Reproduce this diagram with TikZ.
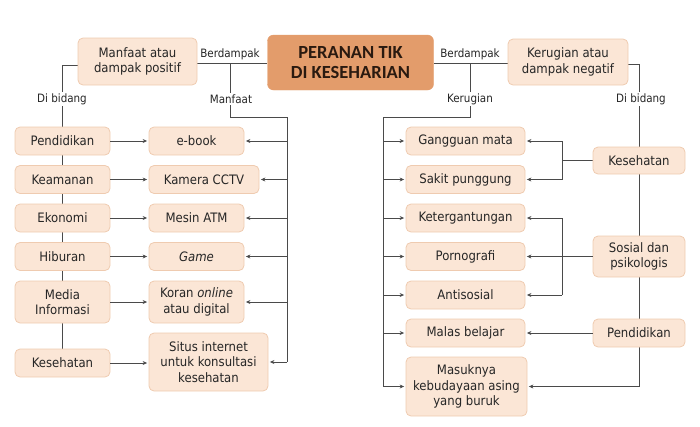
\documentclass[tikz,border=0pt]{standalone}
\usepackage{fontspec}
\setmainfont{DejaVu Sans Condensed}
\newfontfamily\titlefont{Carlito}
\usetikzlibrary{arrows.meta,backgrounds}
\definecolor{boxfill}{HTML}{FBE6D6}
\definecolor{boxline}{HTML}{EFCBB0}
\definecolor{titlefill}{HTML}{E39C6B}
\definecolor{titletext}{HTML}{2A1A10}
\definecolor{conn}{HTML}{4A4A4A}
\definecolor{txt}{HTML}{262626}
\tikzset{
  bx/.style={draw=boxline, fill=boxfill, line width=0.8pt, rounded corners=5pt,
    align=center, inner sep=0pt, text=txt, font=\fontsize{13}{15.5}\selectfont},
  lbl/.style={fill=white, inner sep=1.5pt, text=txt, font=\fontsize{11.5}{13}\selectfont},
  ln/.style={draw=conn, line width=0.7pt},
  arr/.style={ln, -{Stealth[length=4.5pt,width=4pt]}, shorten >=1.5pt},
}
\begin{document}
\begin{tikzpicture}[x=1pt,y=-1pt]
\useasboundingbox (0,0) rectangle (700,426);
% title
\node[draw=titlefill, fill=titlefill, rounded corners=6pt, minimum width=166pt, minimum height=55pt,
  align=center, inner sep=0pt, text=titletext, font=\titlefont\bfseries\fontsize{18.5}{19.5}\selectfont]
  (title) at (350.5,62.5) {PERANAN TIK\\DI KESEHARIAN};
\node[bx, minimum width=119pt, minimum height=47pt] (manf) at (137.5,61.5) {Manfaat atau\\dampak positif};
\node[bx, minimum width=120pt, minimum height=46pt] (rugi) at (568,62) {Kerugian atau\\dampak negatif};
% left column
\node[bx, minimum width=95pt, minimum height=28pt] (lpend) at (62.5,141) {Pendidikan};
\node[bx, minimum width=95pt, minimum height=28pt] (lkeam) at (62.5,179.5) {Keamanan};
\node[bx, minimum width=95pt, minimum height=28pt] (lekon) at (62.5,218) {Ekonomi};
\node[bx, minimum width=95pt, minimum height=28pt] (lhib) at (62.5,256.5) {Hiburan};
\node[bx, minimum width=95pt, minimum height=42pt] (lmed) at (62.5,302) {Media\\Informasi};
\node[bx, minimum width=95pt, minimum height=28pt] (lkes) at (62.5,363) {Kesehatan};
% middle column
\node[bx, minimum width=95pt, minimum height=28pt] (mebook) at (196.5,141) {e-book};
\node[bx, minimum width=110pt, minimum height=28pt] (mcctv) at (204,179.5) {Kamera CCTV};
\node[bx, minimum width=95pt, minimum height=28pt] (matm) at (196.5,218) {Mesin ATM};
\node[bx, minimum width=95pt, minimum height=28pt] (mgame) at (196.5,256.5) {\itshape Game};
\node[bx, minimum width=95pt, minimum height=42pt] (mkoran) at (196.5,302) {Koran \textit{online}\\atau digital};
\node[bx, minimum width=119pt, minimum height=58pt] (msitus) at (208.5,362) {Situs internet\\untuk konsultasi\\kesehatan};
% right results
\node[bx, minimum width=119pt, minimum height=28pt] (rgang) at (465.5,141) {Gangguan mata};
\node[bx, minimum width=119pt, minimum height=28pt] (rsakit) at (465.5,179.5) {Sakit punggung};
\node[bx, minimum width=119pt, minimum height=28pt] (rketer) at (465.5,218) {Ketergantungan};
\node[bx, minimum width=119pt, minimum height=28pt] (rporno) at (465.5,256.5) {Pornografi};
\node[bx, minimum width=119pt, minimum height=28pt] (ranti) at (465.5,295) {Antisosial};
\node[bx, minimum width=119pt, minimum height=28pt] (rmalas) at (465.5,333) {Malas belajar};
\node[bx, minimum width=121pt, minimum height=59pt] (rmasuk) at (466.5,386.5) {Masuknya\\kebudayaan asing\\yang buruk};
% categories
\node[bx, minimum width=92pt, minimum height=27pt] (ckes) at (639,160.5) {Kesehatan};
\node[bx, minimum width=92pt, minimum height=41pt] (csos) at (639,256.5) {Sosial dan\\psikologis};
\node[bx, minimum width=92pt, minimum height=28pt] (cpend) at (639,333) {Pendidikan};
% junction coordinates
\coordinate (jl) at (230,63);
\coordinate (jlb) at (230,117);
\coordinate (rvx) at (287,117);
\coordinate (jr) at (470,63);
\coordinate (jrb) at (470,117);
\coordinate (lvx) at (383,117);
\coordinate (kx) at (562,0);
% labels
\node[lbl] (lbBerL) at (230,54) {Berdampak};
\node[lbl] (lbBerR) at (470,54) {Berdampak};
\node[lbl] (lbManf) at (231,99) {Manfaat};
\node[lbl] (lbKer) at (470,99) {Kerugian};
\node[lbl] (lbDiL) at (62,99) {Di bidang};
\node[lbl] (lbDiR) at (641,99) {Di bidang};
\begin{scope}[on background layer]
  % left top
  \draw[ln] (manf.east |- jl) -- (title.west |- jl);
  \draw[ln] (jl) -- (jlb) -- (rvx) -- (rvx |- msitus);
  \draw[ln] (manf.west |- 0,65) -- (lpend.center |- 0,65) -- (lkes.north);
  % right top
  \draw[ln] (title.east |- jr) -- (rugi.west |- jr);
  \draw[ln] (jr) -- (jrb) -- (lvx) -- (lvx |- rmasuk);
  \draw[ln] (rugi.east |- 0,64) -- (ckes.center |- 0,64) -- (ckes.center |- rmasuk);
  \draw[ln] (ckes.west) -- (kx |- ckes);
  \draw[ln] (kx |- rgang) -- (kx |- rsakit);
  \draw[ln] (kx |- rketer) -- (kx |- ranti);
\end{scope}
% manfaat arrows
\foreach \a/\b in {lpend/mebook, lkeam/mcctv, lekon/matm, lhib/mgame, lmed/mkoran, lkes/msitus}{
  \draw[arr] (\a.east) -- (\a.east -| \b.west);
  \draw[arr] (rvx |- \b) -- (\b.east);
}
% kerugian arrows
\foreach \b in {rgang, rsakit, rketer, rporno, ranti, rmalas, rmasuk}{
  \draw[arr] (lvx |- \b) -- (\b.west);
}
\draw[arr] (kx |- rgang) -- (rgang.east);
\draw[arr] (kx |- rsakit) -- (rsakit.east);
\draw[arr] (kx |- rketer) -- (rketer.east);
\draw[arr] (kx |- ranti) -- (ranti.east);
\draw[arr] (csos.west) -- (rporno.east);
\draw[arr] (cpend.west) -- (rmalas.east);
\draw[arr] (ckes.center |- rmasuk) -- (rmasuk.east);
\end{tikzpicture}
\end{document}
